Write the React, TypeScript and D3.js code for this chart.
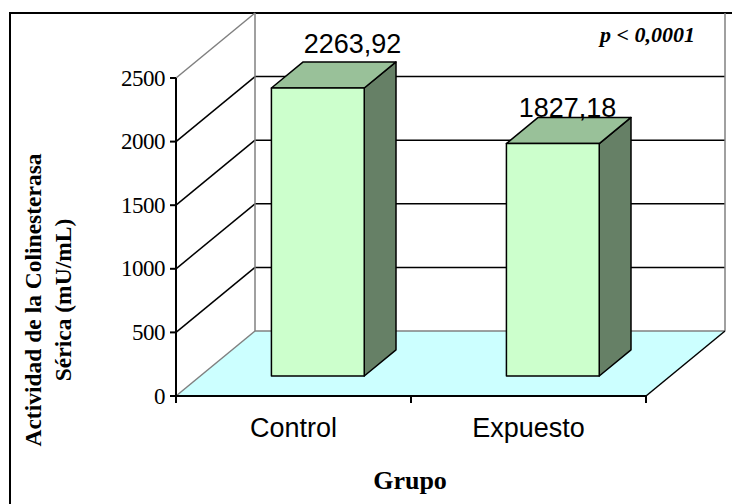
import React from "react";
import * as d3 from "d3";

const categories = ["Control", "Expuesto"];
const values = [2263.92, 1827.18];
const valueLabels = ["2263,92", "1827,18"];
const yTicks = [0, 500, 1000, 1500, 2000, 2500];

const W = 732;
const H = 504;

// 3D frame geometry
const X0 = 176;
const X1 = 646;
const Y0 = 396;
const PLOT_H = 318;
const DEPTH_DX = 79;
const DEPTH_DY = -65;
const BAR_D0 = 0.308;
const BAR_D1 = 0.71;
// small layout tweaks for value labels (dx, dy from back-top center)
const LABEL_DX = [3, -17];
const LABEL_DY = [-9, 0];

export default function App() {
  const x = d3.scaleBand<string>().domain(categories).range([X0, X1]);
  const y = d3.scaleLinear().domain([0, 2500]).range([0, PLOT_H]);

  const P = (sx: number, h: number, d: number): [number, number] => [
    sx + d * DEPTH_DX,
    Y0 + d * DEPTH_DY - h,
  ];
  const poly = (pts: [number, number][]) => pts.map((p) => p.join(",")).join(" ");

  const bw = x.bandwidth() * 0.395;
  const backX0 = X0 + DEPTH_DX;
  const backX1 = X1 + DEPTH_DX;
  const backY0 = Y0 + DEPTH_DY;

  const serif = "'Liberation Serif', 'Times New Roman', serif";
  const sans = "'Liberation Sans', Arial, sans-serif";

  return (
    <svg width={W} height={H} style={{ position: "absolute", left: 0, top: 0, background: "#fff" }}>
      {/* outer border */}
      <rect x={10} y={13} width={W + 20} height={H + 20} fill="none" stroke="#000" strokeWidth={2} />

      {/* floor */}
      <polygon
        points={poly([P(X0, 0, 0), P(X1, 0, 0), P(X1, 0, 1), P(X0, 0, 1)])}
        fill="#CCFFFF"
        stroke="none"
      />
      {/* walls gridlines */}
      {yTicks.map((t) => {
        const a = P(X0, y(t), 0);
        const b = P(X0, y(t), 1);
        const c = P(X1, y(t), 1);
        const edge = t === 0 || t === 2500;
        return (
          <g key={t}>
            <line x1={a[0]} y1={a[1]} x2={b[0]} y2={b[1]} stroke={edge ? "#808080" : "#000"} strokeWidth={1.5} />
            <line x1={b[0]} y1={b[1]} x2={c[0]} y2={c[1]} stroke={t === 0 ? "#808080" : "#000"} strokeWidth={t === 2500 ? 0 : 1.5} />
          </g>
        );
      })}
      {/* back wall verticals */}
      <line x1={backX0} y1={backY0} x2={backX0} y2={backY0 - PLOT_H} stroke="#808080" strokeWidth={1.5} />
      <line x1={backX1} y1={backY0} x2={backX1} y2={backY0 - PLOT_H} stroke="#808080" strokeWidth={1.5} />
      {/* floor right edge */}
      <line x1={X1} y1={Y0} x2={backX1} y2={backY0} stroke="#000" strokeWidth={1.5} />

      {/* bars */}
      {categories.map((c, i) => {
        const cx = (x(c) as number) + x.bandwidth() / 2;
        const l = cx - bw / 2;
        const r = cx + bw / 2;
        const h = y(values[i]);
        const front = [P(l, 0, BAR_D0), P(r, 0, BAR_D0), P(r, h, BAR_D0), P(l, h, BAR_D0)] as [number, number][];
        const top = [P(l, h, BAR_D0), P(r, h, BAR_D0), P(r, h, BAR_D1), P(l, h, BAR_D1)] as [number, number][];
        const side = [P(r, 0, BAR_D0), P(r, 0, BAR_D1), P(r, h, BAR_D1), P(r, h, BAR_D0)] as [number, number][];
        const bt = P(cx, h, BAR_D1);
        return (
          <g key={c}>
            <polygon points={poly(side)} fill="#668066" stroke="#000" strokeWidth={1.5} strokeLinejoin="round" />
            <polygon points={poly(top)} fill="#99C199" stroke="#000" strokeWidth={1.5} strokeLinejoin="round" />
            <polygon points={poly(front)} fill="#CCFFCC" stroke="#000" strokeWidth={1.5} strokeLinejoin="round" />
            <text
              x={bt[0] + LABEL_DX[i]}
              y={bt[1] + LABEL_DY[i]}
              textAnchor="middle"
              fontFamily={sans}
              fontSize={27}
              fill="#000"
            >
              {valueLabels[i]}
            </text>
          </g>
        );
      })}

      {/* y axis */}
      <line x1={X0} y1={Y0 + 1} x2={X0} y2={Y0 - PLOT_H} stroke="#000" strokeWidth={2} />
      {yTicks.map((t) => (
        <g key={t}>
          <line x1={X0 - 6} y1={Y0 - y(t)} x2={X0} y2={Y0 - y(t)} stroke="#000" strokeWidth={2} />
          <text x={X0 - 11} y={Y0 - y(t) + 7.5} textAnchor="end" fontFamily={serif} fontSize={23} letterSpacing={-0.5} fill="#000">
            {t}
          </text>
        </g>
      ))}
      {/* x axis */}
      <line x1={X0} y1={Y0} x2={X1} y2={Y0} stroke="#000" strokeWidth={2} />
      {[X0, X0 + x.bandwidth(), X1].map((tx, i) => (
        <line key={i} x1={tx} y1={Y0} x2={tx} y2={Y0 + 7} stroke="#000" strokeWidth={2} />
      ))}
      {categories.map((c) => (
        <text
          key={c}
          x={(x(c) as number) + x.bandwidth() / 2}
          y={437}
          textAnchor="middle"
          fontFamily={sans}
          fontSize={27}
          fill="#000"
        >
          {c}
        </text>
      ))}

      {/* titles */}
      <text x={410} y={489} textAnchor="middle" fontFamily={serif} fontWeight="bold" fontSize={26} fill="#000">
        Grupo
      </text>
      <g transform="translate(41,300) rotate(-90)">
        <text x={0} y={0} textAnchor="middle" fontFamily={serif} fontWeight="bold" fontSize={23.5} fill="#000">
          Actividad de la Colinesterasa
        </text>
        <text x={0} y={30} textAnchor="middle" fontFamily={serif} fontWeight="bold" fontSize={23.5} fill="#000">
          Sérica (mU/mL)
        </text>
      </g>
      <text x={695} y={42} textAnchor="end" fontFamily={serif} fontWeight="bold" fontStyle="italic" fontSize={22} fill="#000">
        p &lt; 0,0001
      </text>
    </svg>
  );
}
